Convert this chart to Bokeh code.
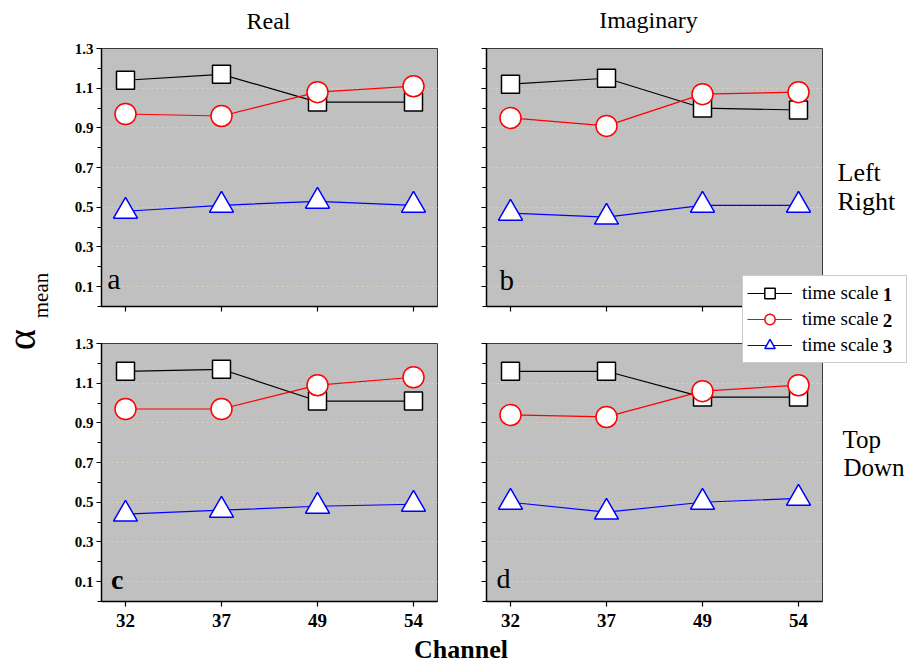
from bokeh.plotting import figure
from bokeh.layouts import row, column
from bokeh.models import Range1d, FixedTicker, Label, Legend, LegendItem
from bokeh.embed import file_html
from bokeh.resources import INLINE

# ---------------- data ----------------
channels = ["32", "37", "49", "54"]
x_idx = [0, 1, 2, 3]

series_names = ["time scale", "time scale", "time scale"]
series_digits = ["1", "2", "3"]
series_colors = ["#000000", "#ff0000", "#0000ff"]
series_markers = ["square", "circle", "triangle"]

real_lr_ts1 = [1.14, 1.17, 1.03, 1.03]
real_lr_ts2 = [0.97, 0.96, 1.08, 1.11]
real_lr_ts3 = [0.48, 0.51, 0.53, 0.51]

imag_lr_ts1 = [1.12, 1.15, 1.00, 0.99]
imag_lr_ts2 = [0.95, 0.91, 1.07, 1.08]
imag_lr_ts3 = [0.47, 0.45, 0.51, 0.51]

real_td_ts1 = [1.16, 1.17, 1.01, 1.01]
real_td_ts2 = [0.97, 0.97, 1.09, 1.13]
real_td_ts3 = [0.44, 0.46, 0.48, 0.49]

imag_td_ts1 = [1.16, 1.16, 1.03, 1.03]
imag_td_ts2 = [0.94, 0.93, 1.06, 1.09]
imag_td_ts3 = [0.50, 0.45, 0.50, 0.52]

y_major = [0.1, 0.3, 0.5, 0.7, 0.9, 1.1, 1.3]
y_minor = [0.0, 0.1, 0.2, 0.3, 0.4, 0.5, 0.6, 0.7, 0.8, 0.9, 1.0, 1.1, 1.2, 1.3]
y_labels = ["0.1", "0.3", "0.5", "0.7", "0.9", "1.1", "1.3"]

SERIF = "Liberation Serif"
SIZES = [18, 21, 24]


def make_panel(width, height, bl, br, bt, bb, show_x, show_y, ys):
    p = figure(width=width, height=height,
               x_range=Range1d(-0.25, 3.25), y_range=Range1d(0, 1.3),
               output_backend="svg", toolbar_location=None,
               min_border_left=bl, min_border_right=br,
               min_border_top=bt, min_border_bottom=bb)
    p.background_fill_color = "#c0c0c0"
    p.border_fill_color = None
    p.outline_line_color = "#3a3a3a"
    p.outline_line_width = 1
    p.xgrid.visible = False
    p.ygrid.ticker = FixedTicker(ticks=y_major)
    p.ygrid.grid_line_color = "#e3cfbd"
    p.ygrid.grid_line_dash = "2 3"
    p.ygrid.grid_line_width = 1

    xa = p.xaxis[0]
    xa.ticker = FixedTicker(ticks=x_idx, minor_ticks=[])
    if show_x:
        xa.major_label_overrides = {i: c for i, c in zip(x_idx, channels)}
    else:
        xa.major_label_overrides = {i: "" for i in x_idx}
    xa.major_label_text_font = SERIF
    xa.major_label_text_font_style = "bold"
    xa.major_label_text_font_size = "19px"
    xa.major_label_text_color = "#000000"
    xa.major_label_standoff = 7
    xa.axis_line_width = 1.5
    xa.axis_line_color = "#000000"
    xa.major_tick_in = 0
    xa.major_tick_out = 5
    xa.major_tick_line_width = 1.2

    ya = p.yaxis[0]
    ya.ticker = FixedTicker(ticks=y_major, minor_ticks=y_minor)
    if show_y:
        ya.major_label_overrides = {t: l for t, l in zip(y_major, y_labels)}
    else:
        ya.major_label_overrides = {t: "" for t in y_major}
    ya.major_label_text_font = SERIF
    ya.major_label_text_font_style = "bold"
    ya.major_label_text_font_size = "15px"
    ya.major_label_text_color = "#000000"
    ya.major_label_standoff = 3
    ya.axis_line_width = 1.5
    ya.axis_line_color = "#000000"
    ya.major_tick_in = 0
    ya.major_tick_out = 5
    ya.major_tick_line_width = 1.2
    ya.minor_tick_in = 0
    ya.minor_tick_out = 4
    ya.minor_tick_line_width = 1.0

    for k, vals in enumerate(ys):
        p.line(x_idx, vals, line_color=series_colors[k], line_width=1.2)
        p.scatter(x_idx, vals, marker=series_markers[k], size=SIZES[k],
                  fill_color="#ffffff", line_color=series_colors[k], line_width=1.5)
    return p


def add_text(p, x, y, text, size, style="normal", align="left", angle=0.0):
    p.add_layout(Label(x=x, y=y, text=text, text_font=SERIF, text_font_size=size,
                       text_font_style=style, text_align=align, text_baseline="middle",
                       text_color="#000000", angle=angle))


def overlay_figure():
    f = figure(width=911, height=664, x_range=Range1d(0, 911), y_range=Range1d(664, 0),
               output_backend="svg", toolbar_location=None, title_location=None,
               x_axis_location=None, y_axis_location=None,
               min_border_left=0, min_border_right=0, min_border_top=0, min_border_bottom=0)
    f.background_fill_color = None
    f.border_fill_color = None
    f.outline_line_color = None
    f.grid.visible = False
    f.margin = (-664, 0, 0, 0)
    return f


# top row: canvases y 0..351, frames y 48..306
pa = make_panel(461, 351, 101, 24, 48, 45, False, True,
                [real_lr_ts1, real_lr_ts2, real_lr_ts3])
pb = make_panel(450, 351, 25, 89, 48, 45, False, False,
                [imag_lr_ts1, imag_lr_ts2, imag_lr_ts3])
# bottom row: canvases from y 260, frames y 343..601
pc = make_panel(461, 404, 101, 24, 83, 63, True, True,
                [real_td_ts1, real_td_ts2, real_td_ts3])
pd = make_panel(560, 404, 135, 89, 83, 63, True, False,
                [imag_td_ts1, imag_td_ts2, imag_td_ts3])

# panel letters (inside the frames)
add_text(pa, -0.19, 0.141, "a", "30px")
add_text(pb, -0.115, 0.134, "b", "29px")
add_text(pc, -0.15, 0.113, "c", "28px", style="bold")
add_text(pd, -0.145, 0.118, "d", "28px")

# legend layer (transparent, covering the page)
lg = overlay_figure()
nan = float("nan")
leg_items = []
for k in range(3):
    lr = lg.line([nan, nan], [nan, nan], line_color=series_colors[k], line_width=1.2)
    sr = lg.scatter([nan], [nan], marker=series_markers[k], size=SIZES[k],
                    fill_color="#ffffff", line_color=series_colors[k], line_width=1.5)
    leg_items.append(LegendItem(label=series_names[k], renderers=[lr, sr]))

legend = Legend(items=leg_items, location=(742, 301))
legend.label_text_font = SERIF
legend.label_text_font_size = "19px"
legend.label_text_color = "#000000"
legend.glyph_width = 45
legend.glyph_height = 26
legend.label_height = 20
legend.label_standoff = 10
legend.label_width = 100
legend.padding = 4
legend.spacing = 0
legend.margin = 0
legend.border_line_color = "#9a9a9a"
legend.border_line_width = 1
legend.background_fill_color = "#ffffff"
legend.background_fill_alpha = 1.0
lg.add_layout(legend)

# text layer (transparent, covering the page, on top of everything)
ov = overlay_figure()
add_text(ov, 268, 20, "Real", "24px", align="center")
add_text(ov, 648, 19, "Imaginary", "24px", align="center")
add_text(ov, 837, 172.4, "Left", "26px")
add_text(ov, 837, 201.4, "Right", "26px")
add_text(ov, 842, 438.7, "Top", "25px")
add_text(ov, 843, 466.7, "Down", "25px")
add_text(ov, 460.5, 649.4, "Channel", "26px", style="bold", align="center")
add_text(ov, 21, 339, "\u03b1", "40px", align="center", angle=1.5707963)
add_text(ov, 40, 295, "mean", "21px", align="center", angle=1.5707963)
for k, yv in enumerate([294, 320, 346]):
    add_text(ov, 882.3, yv, series_digits[k], "19px", style="bold")

pd.margin = (0, 0, 0, -110)
r1 = row(pa, pb)
r2 = row(pc, pd)
r2.margin = (-91, 0, 0, 0)
layout = column(r1, r2, lg, ov)

open("out.html", "w").write(file_html(layout, INLINE))
